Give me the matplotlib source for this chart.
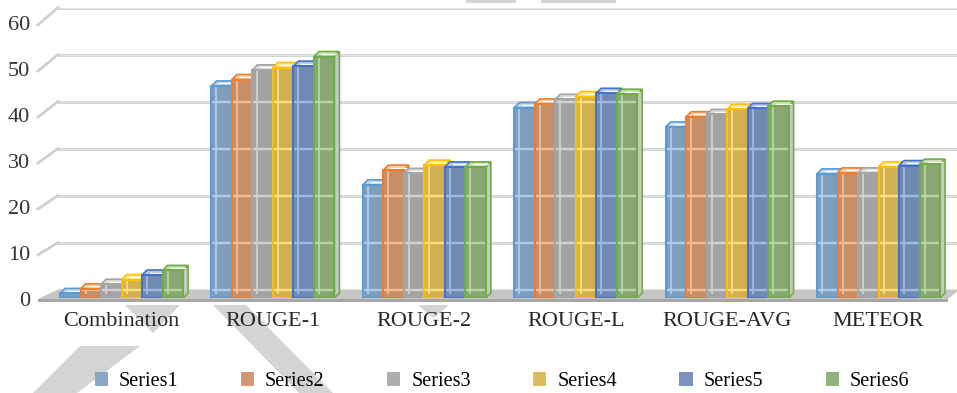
import matplotlib
matplotlib.use("Agg")
import matplotlib.pyplot as plt
from matplotlib.patches import Polygon, Rectangle, Patch
from matplotlib.lines import Line2D
from matplotlib.colors import to_rgb
from matplotlib.transforms import IdentityTransform, offset_copy

# ---- data -------------------------------------------------------------
categories = ["Combination", "ROUGE-1", "ROUGE-2", "ROUGE-L", "ROUGE-AVG", "METEOR"]
series_names = ["Series1", "Series2", "Series3", "Series4", "Series5", "Series6"]
series1 = [1, 46.1, 24.6, 41.4, 37.2, 27.0]
series2 = [2, 47.5, 27.8, 42.2, 39.4, 27.2]
series3 = [3, 49.6, 27.1, 43.2, 39.9, 27.2]
series4 = [4, 50.1, 28.9, 43.8, 41.0, 28.5]
series5 = [5, 50.4, 28.5, 44.5, 41.2, 28.8]
series6 = [6, 52.5, 28.5, 44.3, 41.7, 29.1]
y_ticks = [0, 10, 20, 30, 40, 50, 60]

all_series = [series1, series2, series3, series4, series5, series6]
base_colors = ["#5B9BD5", "#ED7D31", "#A5A5A5", "#FFC000", "#4472C4", "#70AD47"]

# ---- helpers ----------------------------------------------------------
W, H = 957, 393


def mix(c1, c2, t):
    a, b = to_rgb(c1), to_rgb(c2)
    return tuple(a[k] * (1 - t) + b[k] * t for k in range(3))


def fig_pt(x, y_top):
    """pixel position measured from the top-left corner -> figure fraction"""
    return (x / W, 1 - y_top / H)


SERIF = "Liberation Serif"

fig = plt.figure(figsize=(W / 100, H / 100), dpi=100)
fig.patch.set_facecolor("white")

# back wall (gridlines) and front plane (bars, labels)
bax = fig.add_axes([58 / W, (H - 289.5) / H, 899 / W, 282 / H], zorder=0)
bax.set_xlim(0, 1)
bax.set_ylim(0, 60)
bax.axis("off")

ax = fig.add_axes([38 / W, (H - 298) / H, 910 / W, 276 / H], zorder=2)
ax.patch.set_visible(False)
for s in ax.spines.values():
    s.set_visible(False)
x_lo, x_hi = -0.552, 5.459
ax.set_xlim(x_lo, x_hi)
ax.set_ylim(0, 60)

grid_col = "#cfcfcf"
for v in y_ticks[1:]:
    bax.axhline(v, color=grid_col, lw=2.0, zorder=1)
    bax.axhline(v, color="#ebebeb", lw=0.5, zorder=1.1)

# diagonal stubs on the left wall joining front labels to back gridlines
for v in y_ticks[1:]:
    p1 = ax.transData.transform((x_lo, v))
    p2 = bax.transData.transform((0, v))
    fig.add_artist(Line2D([p1[0], p2[0]], [p1[1] - 3, p2[1]], color=grid_col,
                          lw=2.0, transform=IdentityTransform(), zorder=1))

# floor slab
fl = ax.transData.transform((x_lo, 0))
fr = ax.transData.transform((x_hi, 0))
bl = bax.transData.transform((0, 0))
br = bax.transData.transform((1, 0))
fig.add_artist(Polygon([(fl[0], fl[1] - 1), (fr[0], fr[1] - 1), (br[0], br[1] - 2),
                        (br[0], br[1]), (bl[0], bl[1])],
                       closed=True, facecolor="#c6c6c6", edgecolor="none",
                       transform=IdentityTransform(), zorder=1))
fig.add_artist(Polygon([(fl[0], fl[1] - 1), (fr[0], fr[1] - 1), (fr[0], fr[1] - 4),
                        (fl[0], fl[1] - 4)],
                       closed=True, facecolor="#a6a6a6", edgecolor="none",
                       transform=IdentityTransform(), zorder=1))

# ---- 3D-look clustered columns ---------------------------------------
n_ser = len(all_series)
group_w = 0.8124
bw = group_w / n_ser
px_per_x = 910 / (x_hi - x_lo)
px_per_y = 276 / 60
dxd = 5 / px_per_x
dyd = 5 / px_per_y

# back-wall gridline heights expressed in front-plane data units
inv = ax.transData.inverted()
grid_front = [inv.transform(bax.transData.transform((0, g)))[1] for g in y_ticks]

for i in range(len(categories)):
    for j, vals in enumerate(all_series):
        v = vals[i]
        base = base_colors[j]
        face = mix(base, "#a0a0a0", 0.5)
        tint = mix(base, "white", 0.5)
        x0 = i - group_w / 2 + j * bw
        x1 = x0 + bw
        z = 3
        # right side face
        ax.add_patch(Polygon([(x1, 0), (x1 + dxd, dyd), (x1 + dxd, v + dyd), (x1, v)],
                             closed=True, facecolor="#c9c9c9", edgecolor=base,
                             lw=1.2, zorder=z))
        # top face
        ax.add_patch(Polygon([(x0, v), (x1, v), (x1 + dxd, v + dyd), (x0 + dxd, v + dyd)],
                             closed=True, facecolor=mix(base, "white", 0.6),
                             edgecolor=base, lw=1.2, zorder=z))
        ax.plot([x0 + dxd * 1.6, x1 + dxd * 0.4], [v + dyd * 0.5, v + dyd * 0.5],
                color="white", lw=0.9, zorder=z)
        # front face
        front = Rectangle((x0, 0), bw, v, facecolor=face, edgecolor="none", zorder=z)
        ax.add_patch(front)
        # back-wall gridlines seen through the translucent face
        for gy in grid_front:
            if gy < v:
                ln, = ax.plot([x0, x1], [gy, gy], color=tint, lw=1.7, zorder=z)
                ln.set_clip_path(front)
        # rear vertical edge seen through the face
        ln, = ax.plot([x0 + dxd, x0 + dxd], [dyd, v], color=tint, lw=1.3, zorder=z)
        ln.set_clip_path(front)
        ax.add_patch(Rectangle((x0, 0), bw, v, facecolor="none", edgecolor=base,
                               lw=1.5, zorder=z))

# ---- axes text --------------------------------------------------------
ax.set_xticks(range(len(categories)))
ax.set_xticklabels(categories, fontfamily=SERIF, fontsize=16, color="#262626")
ax.tick_params(axis="x", length=0, pad=10)
ax.set_yticks([])
ylab_tr = offset_copy(ax.get_yaxis_transform(), fig=fig, x=-8, y=-3, units="dots")
for t in y_ticks:
    ax.text(0, t, str(t), transform=ylab_tr, ha="right", va="center",
            fontfamily=SERIF, fontsize=16, color="#333333")

# ---- legend -----------------------------------------------------------
handles = [Patch(facecolor=mix(c, "#b4b4b4", 0.5), edgecolor=mix(c, "#b4b4b4", 0.3),
                 lw=0.6) for c in base_colors]
fig.legend(handles, series_names, ncol=6, loc="center",
           bbox_to_anchor=(502 / W, 1 - 381 / H), frameon=False,
           prop={"family": SERIF, "size": 14.5}, handlelength=0.6, handleheight=0.6,
           handletextpad=0.6, columnspacing=3.1, borderpad=0)

# ---- light grey diagonal bands in the lower margin ----------------------
band_col = "#d4d4d4"
bands = [
    [(125, 305), (180, 305), (153, 333)],
    [(33, 393), (77, 393), (140, 346), (80, 346)],
    [(213, 305), (246, 305), (333, 393), (299, 393)],
    [(418, 305), (449, 305), (433, 318)],
    [(466, 0), (516, 0), (516, 3), (466, 3)],
    [(541, 0), (616, 0), (616, 3), (541, 3)],
]
for poly in bands:
    fig.add_artist(Polygon([fig_pt(x, y) for x, y in poly], closed=True,
                           facecolor=band_col, edgecolor="none",
                           transform=fig.transFigure, zorder=1))

fig.savefig("out.png", dpi=100)
